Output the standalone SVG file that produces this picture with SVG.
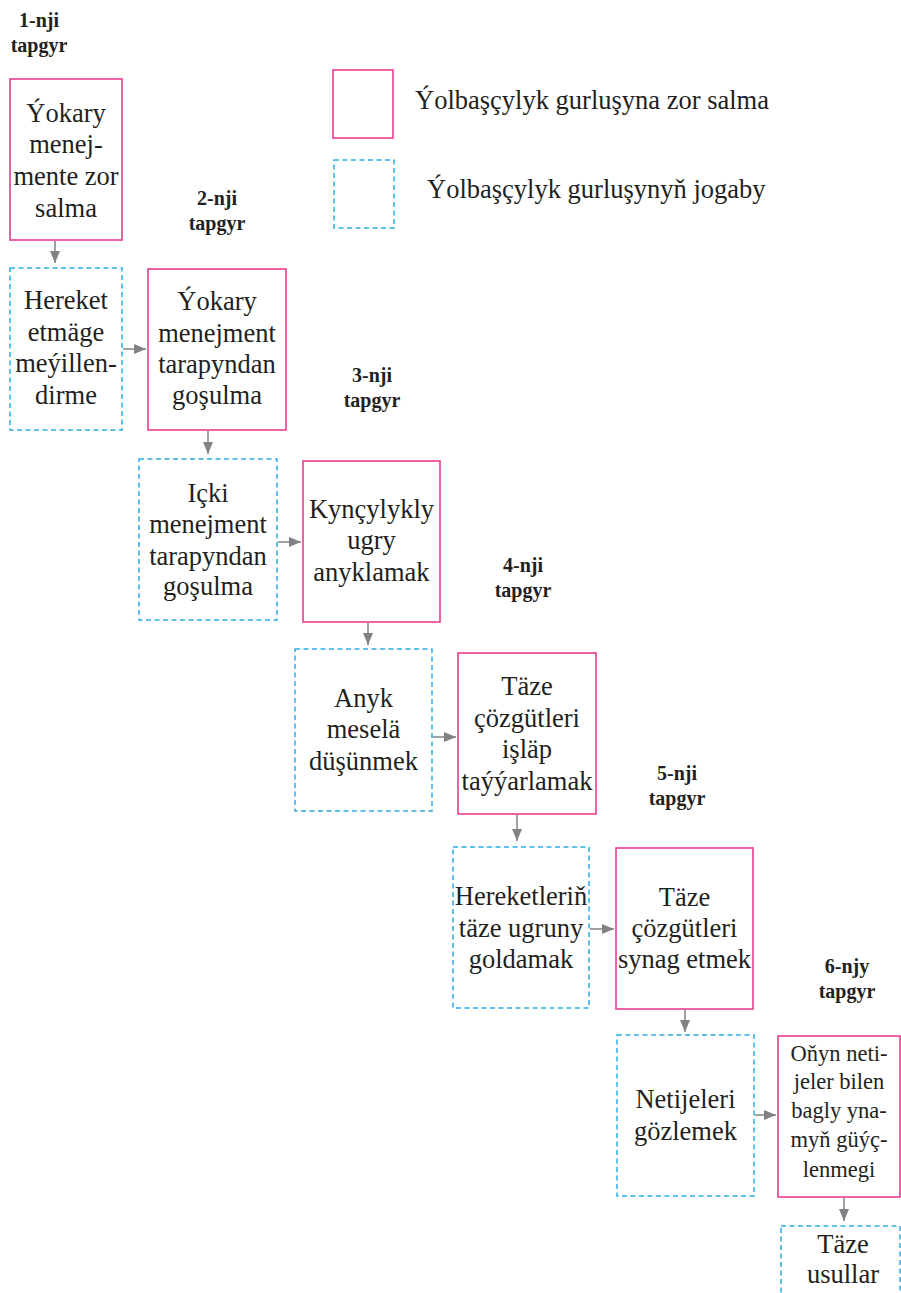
<svg xmlns="http://www.w3.org/2000/svg" width="901" height="1293" viewBox="0 0 901 1293">
<style>
.solid{fill:none;stroke:#ec3b92;stroke-width:1.6}
.dash{fill:none;stroke:#2aaee6;stroke-width:1.5;stroke-dasharray:5 3.5}
.t{font-family:"Liberation Serif","Times New Roman",serif;font-size:26.5px;fill:#231f20;text-anchor:middle}
.ts{font-family:"Liberation Serif","Times New Roman",serif;font-size:22.5px;fill:#231f20;text-anchor:middle}
.lg{font-family:"Liberation Serif","Times New Roman",serif;font-size:26.5px;fill:#231f20}
.st{font-family:"Liberation Serif","Times New Roman",serif;font-size:20px;font-weight:bold;fill:#231f20;text-anchor:middle}
.arr{fill:none;stroke:#808285;stroke-width:1.5;marker-end:url(#ah)}
</style>
<defs>
<marker id="ah" markerUnits="userSpaceOnUse" markerWidth="12" markerHeight="10" refX="12" refY="5" orient="auto">
<path d="M0,0 L12,5 L0,10 z" fill="#808285"/>
</marker>
</defs>
<rect width="901" height="1293" fill="#ffffff"/>

<g id="legend">
<rect class="solid" x="333" y="70" width="60" height="68"/>
<text class="lg" x="415" y="109">Ýolbaşçylyk gurluşyna zor salma</text>
<rect class="dash" x="334" y="160" width="60" height="68"/>
<text class="lg" x="427" y="198">Ýolbaşçylyk gurluşynyň jogaby</text>
</g>

<g id="stages">
<text class="st" x="39"><tspan x="39" y="27">1-nji</tspan><tspan x="39" y="52">tapgyr</tspan></text>
<text class="st" x="217"><tspan x="217" y="205">2-nji</tspan><tspan x="217" y="230">tapgyr</tspan></text>
<text class="st" x="372"><tspan x="372" y="382">3-nji</tspan><tspan x="372" y="407">tapgyr</tspan></text>
<text class="st" x="523"><tspan x="523" y="572">4-nji</tspan><tspan x="523" y="597">tapgyr</tspan></text>
<text class="st" x="677"><tspan x="677" y="780">5-nji</tspan><tspan x="677" y="805">tapgyr</tspan></text>
<text class="st" x="847"><tspan x="847" y="973">6-njy</tspan><tspan x="847" y="998">tapgyr</tspan></text>
</g>

<g id="n1">
<rect class="solid" x="10" y="79" width="112" height="161"/>
<text class="t"><tspan x="66" y="122">Ýokary</tspan><tspan x="66" y="153">menej-</tspan><tspan x="66" y="185">mente zor</tspan><tspan x="66" y="217">salma</tspan></text>
</g>
<g id="n2">
<rect class="dash" x="10" y="268" width="112" height="162"/>
<text class="t"><tspan x="66" y="309">Hereket</tspan><tspan x="66" y="341">etmäge</tspan><tspan x="66" y="372">meýillen-</tspan><tspan x="66" y="404">dirme</tspan></text>
</g>
<g id="n3">
<rect class="solid" x="148" y="269" width="138" height="161"/>
<text class="t"><tspan x="217" y="310">Ýokary</tspan><tspan x="217" y="342">menejment</tspan><tspan x="217" y="373">tarapyndan</tspan><tspan x="217" y="404">goşulma</tspan></text>
</g>
<g id="n4">
<rect class="dash" x="139" y="459" width="138" height="161"/>
<text class="t"><tspan x="208" y="502">Içki</tspan><tspan x="208" y="533">menejment</tspan><tspan x="208" y="565">tarapyndan</tspan><tspan x="208" y="595">goşulma</tspan></text>
</g>
<g id="n5">
<rect class="solid" x="303" y="461" width="137" height="161"/>
<text class="t"><tspan x="371.5" y="518">Kynçylykly</tspan><tspan x="371.5" y="549">ugry</tspan><tspan x="371.5" y="581">anyklamak</tspan></text>
</g>
<g id="n6">
<rect class="dash" x="295" y="649" width="137" height="162"/>
<text class="t"><tspan x="363.5" y="707">Anyk</tspan><tspan x="363.5" y="738">meselä</tspan><tspan x="363.5" y="770">düşünmek</tspan></text>
</g>
<g id="n7">
<rect class="solid" x="458" y="653" width="138" height="161"/>
<text class="t"><tspan x="527" y="695">Täze</tspan><tspan x="527" y="727">çözgütleri</tspan><tspan x="527" y="758">işläp</tspan><tspan x="527" y="790">taýýarlamak</tspan></text>
</g>
<g id="n8">
<rect class="dash" x="453" y="847" width="136" height="161"/>
<text class="t"><tspan x="521" y="905">Hereketleriň</tspan><tspan x="521" y="937">täze ugruny</tspan><tspan x="521" y="968">goldamak</tspan></text>
</g>
<g id="n9">
<rect class="solid" x="616" y="848" width="137" height="161"/>
<text class="t"><tspan x="684.5" y="906">Täze</tspan><tspan x="684.5" y="937">çözgütleri</tspan><tspan x="684.5" y="968">synag etmek</tspan></text>
</g>
<g id="n10">
<rect class="dash" x="617" y="1035" width="137" height="161"/>
<text class="t"><tspan x="685.5" y="1108">Netijeleri</tspan><tspan x="685.5" y="1140">gözlemek</tspan></text>
</g>
<g id="n11">
<rect class="solid" x="778" y="1036" width="122" height="161"/>
<text class="ts"><tspan x="839" y="1061">Oňyn neti-</tspan><tspan x="839" y="1089">jeler bilen</tspan><tspan x="839" y="1118">bagly yna-</tspan><tspan x="839" y="1147">myň güýç-</tspan><tspan x="839" y="1177">lenmegi</tspan></text>
</g>
<g id="n12">
<rect class="dash" x="781" y="1226" width="119" height="80"/>
<text class="t"><tspan x="843" y="1253">Täze</tspan><tspan x="843" y="1283">usullar</tspan></text>
</g>

<g id="connectors">
<line class="arr" x1="55" y1="241" x2="55" y2="263"/>
<line class="arr" x1="123" y1="349" x2="146" y2="349"/>
<line class="arr" x1="208" y1="431" x2="208" y2="454"/>
<line class="arr" x1="278" y1="542" x2="301" y2="542"/>
<line class="arr" x1="368" y1="623" x2="368" y2="645"/>
<line class="arr" x1="433" y1="737" x2="456" y2="737"/>
<line class="arr" x1="517" y1="815" x2="517" y2="841"/>
<line class="arr" x1="590" y1="929" x2="614" y2="929"/>
<line class="arr" x1="685" y1="1010" x2="685" y2="1032"/>
<line class="arr" x1="755" y1="1115" x2="776" y2="1115"/>
<line class="arr" x1="844" y1="1198" x2="844" y2="1221"/>
</g>
</svg>
